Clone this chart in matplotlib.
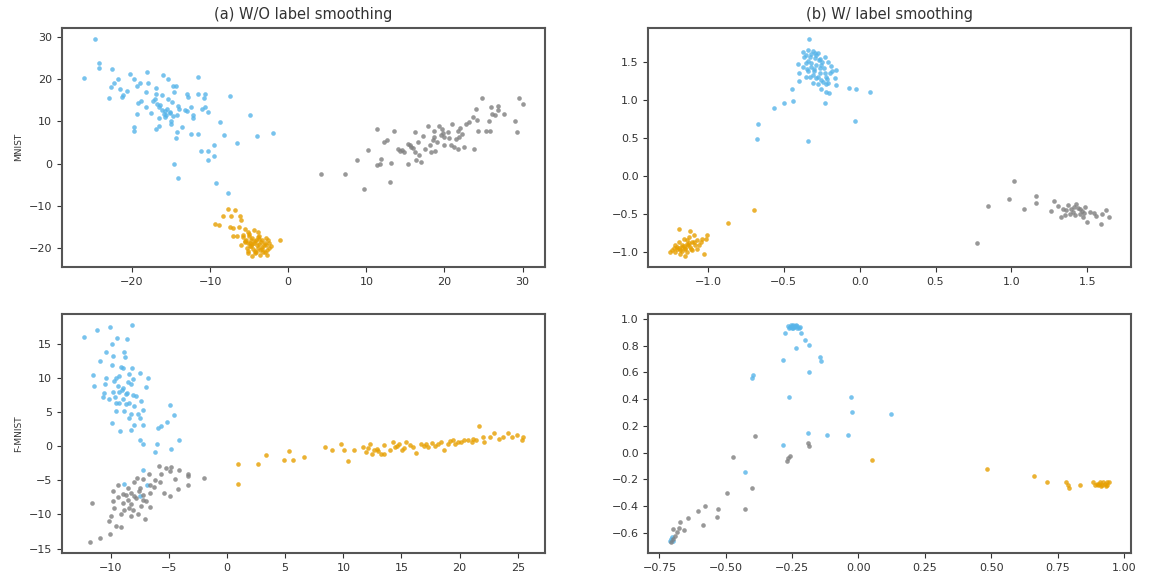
import numpy as np
import matplotlib
matplotlib.use("Agg")
import matplotlib.pyplot as plt

BLUE = '#56B4E9'
ORANGE = '#E69F00'
GRAY = '#7f7f7f'

#### (a) W/O label smoothing, MNIST
a_blue_x = [-24.7, -26.2, -24.2, -24.2, -22.6, -22.9, -22.7, -22.3, -21.8, -21.5, -21.3, -21.1,
            -20.6, -20.2, -19.8, -19.4, -19.0, -18.1, -18.0, -18.2, -18.9, -19.2, -19.3, -19.7,
            -19.7, -18.2, -17.6, -16.9, -16.9, -17.0, -16.8, -16.2, -16.0, -15.4, -14.7, -14.4,
            -14.6, -15.4, -14.9, -16.4, -16.6, -15.8, -15.9, -16.5, -15.6, -15.2, -15.0, -15.0,
            -16.5, -16.9, -14.1, -14.0, -14.2, -13.6, -14.3, -14.4, -14.6, -14.1, -13.0, -12.8,
            -12.4, -12.2, -12.2, -12.5, -11.6, -11.5, -10.7, -10.8, -11.1, -10.7, -10.3, -11.6,
            -11.2, -10.3, -9.5, -9.5, -10.3, -8.8, -8.2, -7.5, -6.6, -4.9, -4.0, -9.3, -7.7, -2.0,
            -15.8, -15.1, -16.2, -14.8, -15.5, -13.2, -17.3, -12.9]
a_blue_y = [29.6, 20.2, 23.9, 22.7, 22.5, 15.5, 18.2, 19.1, 20.0, 17.6, 15.8, 16.2,
            17.2, 21.2, 20.0, 18.4, 19.2, 21.7, 19.2, 16.9, 14.9, 14.4, 11.7, 8.6,
            7.7, 13.5, 12.0, 18.0, 16.5, 15.3, 14.1, 16.2, 20.9, 20.0, 18.4, 18.4,
            17.0, 15.3, 14.5, 13.9, 13.3, 12.5, 11.8, 10.8, 11.4, 12.3, 10.2, 9.4,
            9.0, 8.2, 13.7, 12.9, 11.5, 8.6, 7.5, 6.0, -0.2, -3.5, 16.5, 15.7,
            13.3, 11.5, 10.8, 6.9, 16.5, 20.4, 16.6, 15.5, 12.9, 13.3, 12.2, 7.1,
            2.9, 2.9, 4.3, 1.7, 0.9, 9.8, 6.7, 15.9, 4.9, 11.5, 6.5, -4.7, -7.0, 7.2,
            11.0, 11.9, 12.8, 11.2, 13.0, 12.6, 14.8, 12.5]

a_orange_x = [-7.7, -6.8, -8.4, -7.3, -6.2, -6.0, -9.4, -8.9, -7.5, -7.1, -6.3, -5.6, -5.2, -4.4,
              -3.9, -7.1, -6.5, -5.8, -5.0, -4.6, -3.7, -3.3, -2.9, -5.6, -5.1, -4.4, -3.7, -3.0,
              -2.4, -2.2, -6.0, -4.8, -3.9, -3.3, -2.7, -5.2, -4.1, -5.1, -3.6, -2.7, -4.6, -1.0,
              -4.0, -3.5, -4.8, -5.3, -3.1, -4.2, -2.5, -5.8, -3.8, -4.6, -4.3, -3.2, -5.5, -2.8,
              -4.9, -4.1, -3.4, -5.4, -4.5, -3.6, -2.6, -4.9, -3.9, -5.0, -4.3, -3.0]
a_orange_y = [-10.8, -11.0, -12.5, -12.4, -12.4, -13.3, -14.3, -14.5, -15.1, -15.3, -15.1, -15.5,
              -16.1, -15.7, -16.3, -17.1, -17.2, -17.4, -17.1, -17.6, -17.2, -18.0, -17.6, -18.4,
              -18.8, -18.7, -19.0, -18.8, -18.7, -19.6, -19.2, -19.6, -20.0, -20.2, -20.4, -20.8,
              -21.0, -21.3, -21.6, -21.6, -21.9, -18.1, -19.3, -18.5, -18.0, -19.9, -19.2, -20.6,
              -20.0, -17.0, -17.8, -19.0, -18.3, -20.9, -18.6, -19.3,
              -18.9, -18.0, -19.8, -18.2, -20.3, -20.5, -18.2, -19.5, -17.4, -16.6, -21.1, -21.0]

a_gray_x = [4.2, 7.3, 9.7, 8.8, 10.2, 11.4, 13.5, 12.3, 12.7, 11.4, 11.7, 11.9, 13.1, 13.0,
            14.0, 14.5, 15.3, 15.3, 15.7, 16.2, 16.2, 16.4, 17.0, 16.8, 17.9, 18.1, 18.3, 18.7,
            18.6, 19.1, 19.3, 19.7, 20.0, 20.0, 20.8, 21.2, 21.7, 21.0, 21.7, 22.3, 22.7, 21.9,
            23.8, 23.6, 24.2, 24.0, 24.8, 24.3, 25.3, 25.8, 25.9, 26.1, 26.5, 26.9, 25.7, 29.5,
            30.0, 29.0, 29.3, 27.6, 26.8, 18.5, 19.5, 17.5, 16.6, 20.5, 21.5, 22.5, 14.8, 15.6,
            18.8, 17.2, 19.8, 20.6, 22.0, 23.1, 16.0, 14.3]
a_gray_y = [-2.5, -2.4, -6.1, 0.8, 3.1, 8.1, 7.7, 5.1, 5.5, -0.4, 0.0, 1.2, 0.2, -4.3,
            3.5, 3.3, 0.0, 4.7, 3.9, 7.5, 2.7, 0.8, 0.4, 2.0, 9.0, 4.3, 2.7, 7.8,
            6.3, 5.1, 9.0, 8.2, 6.3, 4.3, 4.3, 3.9, 3.5, 9.4, 7.8, 7.1, 9.4, 6.3,
            3.5, 11.0, 10.4, 12.9, 15.5, 7.7, 7.7, 7.8, 13.3, 11.8, 11.4, 13.7, 10.2, 15.5,
            14.0, 10.0, 7.4, 11.8, 12.8, 5.5, 6.8, 3.5, 5.2, 7.5, 5.8, 4.0, 2.8, 4.5,
            3.0, 6.5, 7.2, 6.0, 8.4, 9.8, 3.6, 3.0]

#### (b) W/ label smoothing, MNIST
b_blue_x = [-0.335, -0.674, -0.667, -0.340, -0.567, -0.496, -0.441, -0.448, -0.231, -0.032,
            -0.072, -0.021, 0.068, -0.408, -0.375, -0.342, -0.309, -0.275, -0.364, -0.330,
            -0.297, -0.264, -0.231, -0.209, -0.353, -0.320, -0.286, -0.253, -0.187, -0.158,
            -0.397, -0.342, -0.304, -0.264, -0.231, -0.198, -0.330, -0.290, -0.253, -0.216,
            -0.165, -0.153, -0.397, -0.309, -0.275, -0.209, -0.253, -0.220, -0.203, -0.238,
            -0.320, -0.375, -0.297, -0.342, -0.246, -0.275, -0.224, -0.353, -0.182,
            -0.318, -0.285, -0.262, -0.348, -0.300, -0.270, -0.240, -0.310, -0.355, -0.225]
b_blue_y = [1.80, 0.49, 0.68, 0.46, 0.887, 0.96, 0.98, 1.137, 0.96, 0.724,
            1.15, 1.137, 1.105, 1.47, 1.63, 1.65, 1.64, 1.61, 1.566, 1.56,
            1.545, 1.53, 1.56, 1.50, 1.48, 1.48, 1.46, 1.46, 1.44, 1.39,
            1.347, 1.38, 1.37, 1.355, 1.355, 1.347, 1.30, 1.28, 1.26, 1.27,
            1.28, 1.19, 1.25, 1.216, 1.207, 1.216, 1.137, 1.105, 1.09, 1.41,
            1.43, 1.434, 1.61, 1.51, 1.50, 1.30, 1.30, 1.30, 1.37,
            1.60, 1.58, 1.42, 1.40, 1.40, 1.52, 1.23, 1.33, 1.59, 1.20]

b_orange_x = [-0.695, -0.868, -1.193, -1.115, -1.027, -1.149, -1.005, -1.038, -1.071, -1.104,
              -1.137, -1.171, -1.204, -1.237, -1.215, -1.182, -1.149, -1.115, -1.082, -1.049,
              -1.193, -1.159, -1.126, -1.093, -1.171, -1.204, -1.104, -1.071, -1.137, -1.182,
              -1.248, -1.016, -1.137, -1.215, -1.160, -1.125, -1.090, -1.188, -1.150, -1.110,
              -1.170, -1.130, -1.225, -1.060]
b_orange_y = [-0.451, -0.613, -0.692, -0.727, -1.02, -1.05, -0.780, -0.824, -0.846, -0.869,
              -0.89, -0.90, -0.934, -0.977, -1.0, -0.977, -0.955, -0.934, -0.912, -0.869,
              -0.869, -0.824, -0.802, -0.77, -0.934, -0.963, -0.977, -0.955, -1.0, -1.02,
              -1.0, -0.824, -0.846, -0.912, -0.920, -0.880, -0.870, -0.950, -0.940, -0.960,
              -0.990, -0.910, -0.950, -0.900]

b_gray_x = [1.015, 0.846, 0.982, 1.081, 1.163, 1.163, 0.776, 1.258, 1.280, 1.306, 1.340, 1.351,
            1.373, 1.395, 1.407, 1.428, 1.439, 1.462, 1.473, 1.450, 1.417, 1.488, 1.384, 1.329,
            1.645, 1.59, 1.50, 1.62, 1.547, 1.56, 1.52, 1.60, 1.36, 1.41, 1.45, 1.48]
b_gray_y = [-0.066, -0.399, -0.297, -0.438, -0.263, -0.35, -0.876, -0.464, -0.332, -0.394, -0.429,
            -0.517, -0.38, -0.429, -0.473, -0.364, -0.42, -0.464, -0.538, -0.494, -0.517, -0.41,
            -0.494, -0.538, -0.54, -0.63, -0.61, -0.45, -0.49, -0.52, -0.47, -0.50, -0.45, -0.41,
            -0.44, -0.48]

#### (a) W/O label smoothing, F-MNIST
c_blue_x = [-12.33, -11.17, -10.03, -8.19, -9.48, -8.58, -9.91, -10.40, -9.77, -8.88, -8.73, -10.91,
            -9.88, -9.10, -8.90, -8.15, -11.55, -10.40, -9.53, -9.25, -8.39, -7.52, -6.81, -11.41,
            -10.46, -9.68, -8.53, -8.24, -6.95, -9.40, -8.96, -10.54, -9.83, -9.25, -8.67, -8.10,
            -7.81, -10.69, -10.11, -9.59, -8.96, -8.39, -7.38, -9.53, -8.67, -7.96, -7.24, -9.53,
            -8.82, -8.24, -7.67, -7.52, -8.45, -9.88, -9.16, -8.24, -7.96, -7.24, -5.94, -5.65,
            -5.13, -4.56, -4.87, -4.13, -7.46, -7.18, -6.03, -6.17, -4.79, -7.24, -8.82, -6.89,
            -7.52, -9.0, -8.6, -8.1, -9.3]
c_blue_y = [16.1, 17.1, 17.5, 17.8, 15.9, 15.8, 15.0, 13.9, 13.3, 13.9, 13.1, 12.5,
            11.9, 11.6, 11.5, 11.5, 10.5, 10.0, 10.1, 10.3, 10.6, 10.8, 10.1, 8.9,
            9.1, 9.6, 9.4, 9.1, 8.7, 8.9, 8.6, 7.9, 8.0, 8.0, 7.75, 7.5,
            7.4, 7.2, 6.9, 7.2, 6.9, 6.4, 6.7, 6.4, 6.2, 5.9, 5.4, 5.2,
            5.2, 4.8, 4.7, 4.1, 4.2, 3.5, 2.2, 2.4, 3.2, 3.1, 2.7, 3.0,
            3.6, 4.6, 6.0, 1.0, 0.9, 0.3, 0.4, -0.8, -0.4, -3.5, -5.5, -5.6,
            -7.3, 8.3, 7.9, 9.9, 6.3]

c_orange_x = [0.93, 0.93, 2.66, 3.37, 4.87, 5.66, 5.34, 6.59, 8.44, 9.0, 9.78, 10.41, 10.1, 10.88,
              11.66, 11.98, 12.28, 12.44, 12.91, 13.22, 13.53, 14.0, 14.47, 14.79, 15.25, 15.72,
              16.28, 16.66, 17.13, 17.60, 17.91, 18.38, 18.69, 19.16, 19.63, 20.10, 20.73, 21.19,
              21.66, 21.98, 22.13, 22.92, 23.69, 24.16, 24.48, 25.41, 25.35, 14.31, 15.41, 17.28,
              19.47, 12.6, 13.53, 15.03, 16.03, 19.0, 20.41, 21.03, 22.6, 23.38,
              12.1, 13.0, 14.6, 16.9, 18.1, 19.9, 21.4, 24.9]
c_orange_y = [-2.65, -5.5, -2.65, -1.3, -2.06, -2.06, -0.69, -1.57, -0.1, -0.59, 0.39, -2.16, -0.49,
              -0.49, -0.1, -0.83, 0.29, -1.08, -0.34, -1.08, 0.15, -0.59, -0.1, 0.39, -0.2, 0.15,
              -0.98, 0.39, 0.29, 0.49, 0.0, 0.64, -0.49, 0.78, 0.39, 0.64, 0.88, 1.13,
              2.94, 1.37, 0.64, 1.96, 1.37, 1.96, 1.37, 1.37, 0.98, 0.64, 0.64, -0.1,
              0.98, -0.59, -1.08, -0.59, -0.1, 0.29, 0.98, 0.64, 1.37, 1.13,
              -0.3, -0.7, 0.0, 0.1, 0.4, 0.6, 0.9, 1.6]

c_gray_x = [-5.88, -5.28, -4.79, -4.13, -6.72, -5.65, -3.36, -3.36, -1.98, -4.50, -7.72, -7.24,
            -6.23, -7.96, -6.66, -5.80, -3.36, -4.22, -5.43, -4.94, -9.40, -8.53, -7.52, -9.83,
            -8.96, -8.24, -7.24, -6.66, -9.40, -8.53, -7.81, -6.95, -9.83, -8.96, -8.24, -7.38,
            -6.66, -9.74, -8.82, -8.04, -9.97, -9.10, -8.24, -7.61, -7.09, -10.17, -9.53, -9.10,
            -11.64, -10.05, -10.91, -11.78, -4.94, -8.0, -7.6, -8.7, -7.2, -6.3, -8.4]
c_gray_y = [-2.9, -3.2, -3.1, -3.4, -4.0, -4.0, -4.0, -4.4, -4.7, -4.85, -4.6, -4.85,
            -5.0, -5.3, -5.6, -5.3, -5.7, -6.3, -6.8, -7.3, -5.7, -6.1, -6.1, -6.6,
            -7.0, -6.8, -7.1, -6.8, -7.5, -7.8, -7.6, -8.0, -8.0, -8.3, -8.5, -8.8,
            -8.9, -9.1, -9.3, -9.4, -10.2, -10.0, -10.2, -10.0, -10.7, -10.9, -11.7, -11.9,
            -8.3, -12.8, -13.5, -14.1, -3.6, -7.3, -6.5, -7.2, -7.8, -6.0, -9.0]

#### (b) W/ label smoothing, F-MNIST
d_blue_x = [-0.264, -0.258, -0.251, -0.245, -0.239, -0.233, -0.226, -0.245, -0.255, -0.235,
            -0.222, -0.260, -0.2425, -0.249, -0.23, -0.276, -0.2175, -0.201, -0.185, -0.236,
            -0.286, -0.145, -0.141, -0.185, -0.3975, -0.401, -0.26, -0.029, -0.024, 0.121,
            -0.191, -0.1175, -0.041, -0.286, -0.429, -0.7075, -0.70, -0.709, -0.703]
d_blue_y = [0.946, 0.938, 0.946, 0.952, 0.945, 0.935, 0.930, 0.93, 0.955, 0.952,
            0.938, 0.93, 0.938, 0.934, 0.945, 0.892, 0.892, 0.841, 0.809, 0.784,
            0.69, 0.713, 0.683, 0.607, 0.582, 0.557, 0.413, 0.413, 0.305, 0.287,
            0.146, 0.128, 0.128, 0.06, -0.144, -0.648, -0.665, -0.665, -0.63]

d_orange_x = [0.051, 0.486, 0.662, 0.712, 0.781, 0.788, 0.795, 0.833, 0.884, 0.897, 0.911, 0.918,
              0.927, 0.938, 0.945, 0.904, 0.922, 0.933, 0.891, 0.908, 0.935, 0.915]
d_orange_y = [-0.053, -0.126, -0.176, -0.219, -0.219, -0.244, -0.265, -0.24, -0.224, -0.232,
              -0.219, -0.24, -0.232, -0.24, -0.224, -0.244, -0.224, -0.249, -0.24, -0.232,
              -0.219, -0.253]

d_gray_x = [-0.389, -0.4725, -0.191, -0.186, -0.2575, -0.264, -0.27, -0.401, -0.495, -0.4275,
            -0.5275, -0.5325, -0.579, -0.604, -0.6425, -0.586, -0.6725, -0.699, -0.676, -0.6575,
            -0.685, -0.6925, -0.6975, -0.705]
d_gray_y = [0.123, -0.03, 0.07, 0.053, -0.023, -0.043, -0.066, -0.262, -0.30, -0.421,
            -0.421, -0.484, -0.40, -0.438, -0.489, -0.539, -0.519, -0.569, -0.564, -0.577,
            -0.597, -0.627, -0.648, -0.673]


#### FUNCTION: one scatter panel, three classes
def drawPanel(ax, blue, orange, gray):
  for (xs, ys), col in ((blue, BLUE), (orange, ORANGE), (gray, GRAY)):
    ax.scatter(xs, ys, s=11, color=col, alpha=0.8, linewidths=0)
  for sp in ax.spines.values():
    sp.set_color('#555555')
    sp.set_linewidth(1.5)
  ax.tick_params(labelsize=8, colors='#333333', length=3.5, width=0.8)


fig, axes = plt.subplots(2, 2, figsize=(11.5, 5.79), dpi=100)
fig.subplots_adjust(left=0.0536, right=0.9837, top=0.952, bottom=0.0444, wspace=0.215, hspace=0.198)

drawPanel(axes[0, 0], (a_blue_x, a_blue_y), (a_orange_x, a_orange_y), (a_gray_x, a_gray_y))
drawPanel(axes[0, 1], (b_blue_x, b_blue_y), (b_orange_x, b_orange_y), (b_gray_x, b_gray_y))
drawPanel(axes[1, 0], (c_blue_x, c_blue_y), (c_orange_x, c_orange_y), (c_gray_x, c_gray_y))
drawPanel(axes[1, 1], (d_blue_x, d_blue_y), (d_orange_x, d_orange_y), (d_gray_x, d_gray_y))

## column titles and row labels
axes[0, 0].set_title('(a) W/O label smoothing', fontsize=10.5, color='#333333')
axes[0, 1].set_title('(b) W/ label smoothing', fontsize=10.5, color='#333333')
axes[0, 0].set_ylabel('MNIST', fontsize=6.5, color='#333333')
axes[1, 0].set_ylabel('F-MNIST', fontsize=6.5, color='#333333')

fig.savefig('out.png', dpi=100)
